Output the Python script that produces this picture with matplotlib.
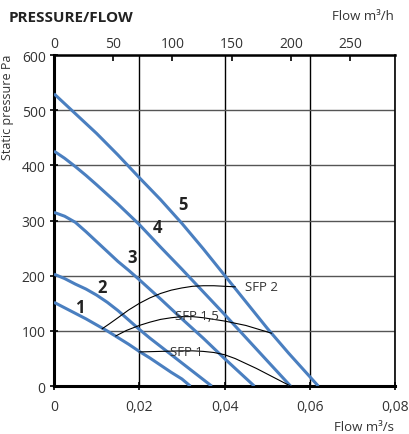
import matplotlib.pyplot as plt
import numpy as np

plt.rcParams['font.family'] = ['Open Sans', 'DejaVu Sans']

# fan curves, flow in m3/s, static pressure in Pa
flow_1 = [0, 0.0025, 0.005, 0.0075, 0.01, 0.0125, 0.015, 0.0175, 0.02, 0.0225, 0.025, 0.0275, 0.03, 0.032]
pa_1 = [152, 142, 132, 122, 111, 100, 88, 76, 63, 51, 38, 25, 13, 0]
flow_2 = [0, 0.0025, 0.005, 0.0075, 0.01, 0.0125, 0.015, 0.0175, 0.02, 0.0225, 0.025, 0.0275, 0.03, 0.0325, 0.035, 0.037]
pa_2 = [203, 195, 185, 176, 165, 152, 137, 120, 103, 87, 72, 57, 42, 27, 12, 0]
flow_3 = [0, 0.0025, 0.005, 0.0075, 0.01, 0.0125, 0.015, 0.0175, 0.02, 0.025, 0.03, 0.035, 0.04, 0.047]
pa_3 = [315, 308, 297, 280, 262, 244, 226, 210, 193, 158, 122, 87, 50, 0]
flow_4 = [0, 0.0025, 0.005, 0.0075, 0.01, 0.015, 0.02, 0.025, 0.03, 0.035, 0.04, 0.045, 0.05, 0.0555]
pa_4 = [426, 413, 398, 382, 365, 330, 293, 252, 212, 171, 130, 88, 46, 0]
flow_5 = [0, 0.005, 0.01, 0.015, 0.02, 0.025, 0.03, 0.035, 0.04, 0.045, 0.05, 0.055, 0.062]
pa_5 = [530, 494, 458, 419, 378, 338, 295, 249, 201, 153, 105, 60, 0]

# SFP lines
sfp2_flow = [0.0113, 0.013, 0.015, 0.0175, 0.02, 0.0225, 0.025, 0.0275, 0.03, 0.0325, 0.035, 0.0375, 0.04, 0.0425]
sfp2_pa = [104, 113, 124, 138, 150, 160, 168, 174, 178, 181, 182, 182, 181, 180]
sfp15_flow = [0.0145, 0.017, 0.02, 0.0225, 0.025, 0.0275, 0.03, 0.0325, 0.035, 0.0375, 0.04, 0.0425, 0.045, 0.048, 0.051]
sfp15_pa = [91, 101, 110, 116, 121, 124, 126, 126, 124, 121, 118, 114, 110, 103, 96]
sfp1_flow = [0.02, 0.025, 0.03, 0.0325, 0.035, 0.0375, 0.04, 0.0425, 0.045, 0.0475, 0.05, 0.0525, 0.0555]
sfp1_pa = [62, 63, 64, 64, 63, 61, 57, 50, 41, 32, 22, 12, 0]

curve_labels = ['1', '2', '3', '4', '5']
label_pos = [(0.0061, 143), (0.0113, 179), (0.0183, 234), (0.0242, 288), (0.0303, 330)]

blue = '#4a7fc0'
grey = '#333333'

fig = plt.figure(figsize=(4.09, 4.35), dpi=100)
ax = fig.add_axes([0.132, 0.110, 0.834, 0.761])

curves = [(flow_1, pa_1), (flow_2, pa_2), (flow_3, pa_3), (flow_4, pa_4), (flow_5, pa_5)]
for fl, pa in curves:
    ax.plot(fl, pa, color=blue, lw=2.2, solid_capstyle='butt', solid_joinstyle='round', zorder=3)
for (x, y), t in zip(label_pos, curve_labels):
    ax.text(x, y, t, fontsize=12, fontweight='bold', color='#222222', ha='center', va='center')

for fl, pa in [(sfp2_flow, sfp2_pa), (sfp15_flow, sfp15_pa), (sfp1_flow, sfp1_pa)]:
    ax.plot(fl, pa, color='black', lw=0.8, zorder=4)
ax.text(0.0448, 181, 'SFP 2', fontsize=9.5, color=grey, ha='left', va='center')
ax.text(0.0336, 128, 'SFP 1,5', fontsize=9.5, color=grey, ha='center', va='center', zorder=5)
ax.text(0.0310, 62, 'SFP 1', fontsize=9.5, color=grey, ha='center', va='center', zorder=5)

ax.set_xlim(0, 0.08)
ax.set_ylim(0, 600)
ax.set_xticks([0, 0.02, 0.04, 0.06, 0.08])
ax.set_xticklabels(['0', '0,02', '0,04', '0,06', '0,08'])
ax.set_yticks(range(0, 601, 100))
ax.grid(axis='x', color='black', lw=1.0)
ax.grid(axis='y', color='#555555', lw=1.0)
ax.set_axisbelow(True)
ax.tick_params(axis='both', labelsize=10, labelcolor=grey, direction='inout', length=6, width=1.2)
ax.tick_params(axis='x', pad=6)
ax.tick_params(axis='y', pad=3)

for s in ['left', 'bottom']:
    ax.spines[s].set_linewidth(2.2)
ax.spines['top'].set_linewidth(1.8)
ax.spines['right'].set_linewidth(1.2)

top = ax.secondary_xaxis('top', functions=(lambda x: x * 3600, lambda x: x / 3600))
top.set_xticks([0, 50, 100, 150, 200, 250])
top.tick_params(labelsize=10, labelcolor=grey, direction='in', length=4, width=1.2, pad=3)
top.spines['top'].set_visible(False)

fig.text(0.02, 0.958, 'PRESSURE/FLOW', fontsize=11, fontweight='bold', color='#222222', va='center')
fig.text(0.963, 0.962, 'Flow m³/h', fontsize=9.5, color=grey, ha='right', va='center')
fig.text(0.963, 0.018, 'Flow m³/s', fontsize=9.5, color=grey, ha='right', va='center')
fig.text(0.018, 0.875, 'Static pressure Pa', fontsize=9, color=grey, rotation=90, ha='center', va='top')

fig.savefig('out.png', dpi=100)
